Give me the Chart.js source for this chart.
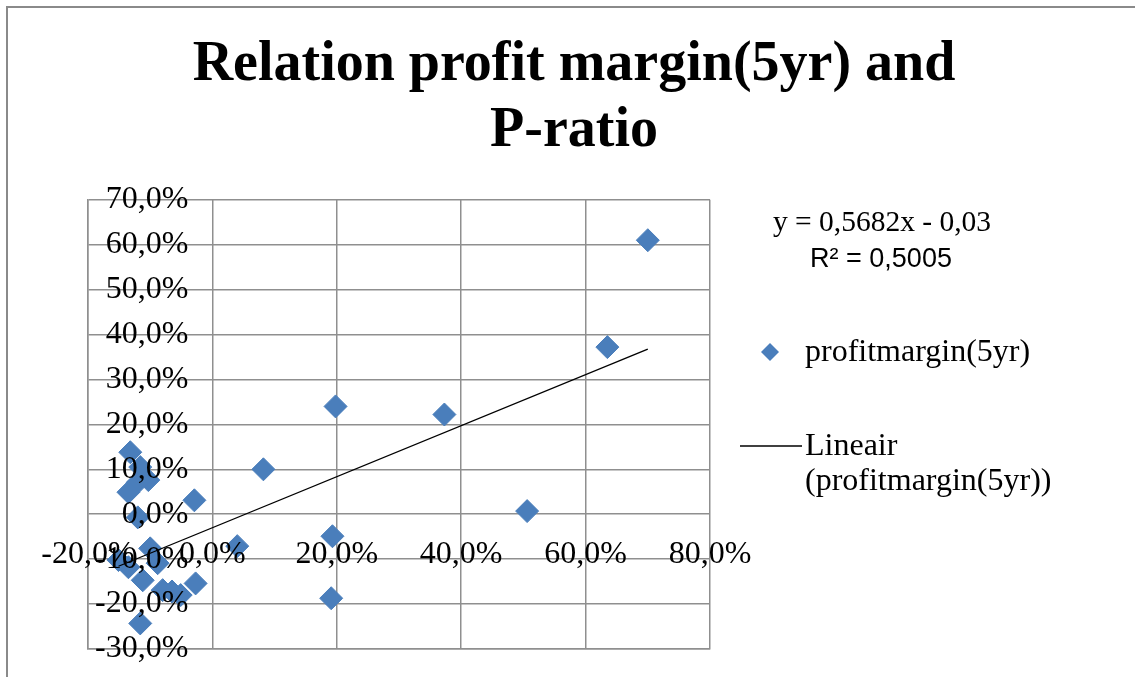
<!DOCTYPE html>
<html>
<head>
<meta charset="utf-8">
<script src="https://cdn.jsdelivr.net/npm/chart.js@4.4.0/dist/chart.umd.min.js"></script>
<style>
    html, body { margin: 0; padding: 0; background: #fff; overflow: hidden; }
    #frame {
        position: absolute; left: 6px; top: 6px; width: 1300px; height: 800px;
        border-left: 2px solid #8a8a8a; border-top: 2px solid #8a8a8a;
    }
    #chart { position: absolute; left: 0; top: 0; }
</style>
</head>
<body>
<div id="frame"></div>
<canvas id="chart" width="1135" height="677"></canvas>
<script>
// values in percent
const profitMargin = [70.0, 63.5, 37.3, 19.8, 50.6, 8.2, 19.3, 19.1, 4.0, -2.9,
    -13.2, -11.6, -10.3, -12.0, -13.5, -12.0, -10.0, -15.1, -13.5, -8.8,
    -11.2, -8.0, -5.1, -2.7, -6.5, -11.6];
const pRatio = [61.0, 37.2, 22.2, 24.0, 0.7, 10.0, -4.9, -18.7, -7.1, 3.1,
    13.8, 10.5, 7.6, 7.1, 4.9, -0.7, -7.6, -10.2, -11.8, -10.9,
    -14.7, -16.9, -18.0, -15.4, -17.2, -24.3];

// linear trendline as printed on the chart: y = 0,5682x - 0,03
const trendSlope = 0.5682;
const trendIntercept = -3.0;   // percent
const trendLabel = ['y = 0,5682x - 0,03', 'R² = 0,5005'];

const xTicks = [-20, 0, 20, 40, 60, 80];
const yTicks = [-30, -20, -10, 0, 10, 20, 30, 40, 50, 60, 70];

const titleLines = ['Relation profit margin(5yr) and', 'P-ratio'];
const seriesName = 'profitmargin(5yr)';
const trendName = ['Lineair', '(profitmargin(5yr))'];

const pointBlue = '#4A7EBB';
const gridGrey = '#8f8f8f';

function pct(v) {
    return v.toFixed(1).replace('.', ',') + '%';
}

const points = profitMargin.map((x, i) => ({ x: x, y: pRatio[i] }));
const xMin = Math.min(...profitMargin);
const xMax = Math.max(...profitMargin);
const trendPoints = [xMin, xMax].map(x => ({ x: x, y: trendSlope * x + trendIntercept }));

/**
 * Legend and trendline equation on the right side
 */
const sideLegend = {
    id: 'sideLegend',
    afterDraw(chart) {
        const ctx = chart.ctx;
        ctx.save();
        ctx.fillStyle = '#000';
        ctx.textBaseline = 'middle';

        // equation
        ctx.textAlign = 'center';
        ctx.font = '29.5px "Liberation Serif"';
        ctx.fillText(trendLabel[0], 882, 223);
        ctx.font = '27px "Liberation Sans"';
        ctx.fillText(trendLabel[1], 881, 260);

        // series marker
        ctx.fillStyle = pointBlue;
        ctx.beginPath();
        ctx.moveTo(770 - 9, 352);
        ctx.lineTo(770, 352 - 9);
        ctx.lineTo(770 + 9, 352);
        ctx.lineTo(770, 352 + 9);
        ctx.closePath();
        ctx.fill();

        ctx.fillStyle = '#000';
        ctx.textAlign = 'left';
        ctx.font = '32px "Liberation Serif"';
        ctx.fillText(seriesName, 805, 353);

        // trendline marker
        ctx.strokeStyle = '#000';
        ctx.lineWidth = 1.3;
        ctx.beginPath();
        ctx.moveTo(740, 446);
        ctx.lineTo(802, 446);
        ctx.stroke();
        ctx.fillText(trendName[0], 805, 447);
        ctx.fillText(trendName[1], 805, 482);

        ctx.restore();
    }
};

const tickFont = { family: 'Liberation Serif', size: 32, lineHeight: 1.2 };

new Chart(document.getElementById('chart'), {
    type: 'scatter',
    data: {
        datasets: [
            {
                type: 'line',
                label: trendName.join(' '),
                data: trendPoints,
                borderColor: '#000',
                borderWidth: 1.3,
                pointRadius: 0,
                fill: false,
                order: 0
            },
            {
                label: seriesName,
                data: points,
                backgroundColor: pointBlue,
                borderColor: pointBlue,
                borderWidth: 1,
                pointStyle: 'rectRot',
                pointRadius: 11.5,
                order: 1
            }
        ]
    },
    plugins: [sideLegend],
    options: {
        responsive: false,
        animation: false,
        layout: { padding: { left: 13, right: 0, top: 0, bottom: 0 } },
        plugins: {
            legend: { display: false },
            tooltip: { enabled: false },
            title: {
                display: true,
                text: titleLines,
                color: '#000',
                font: { family: 'Liberation Serif', size: 56, weight: 'bold', lineHeight: 1.19 },
                padding: { top: 32, bottom: 34.5 }
            }
        },
        scales: {
            x: {
                type: 'linear',
                position: 'bottom',
                min: xTicks[0],
                max: xTicks[xTicks.length - 1],
                afterBuildTicks: s => { s.ticks = xTicks.map(v => ({ value: v })); },
                afterFit: s => {
                    s.height = 28;
                    s.paddingLeft = 0;
                    s.paddingRight = 0;
                },
                grid: { color: gridGrey, lineWidth: 1.5, drawTicks: false },
                border: { color: gridGrey, width: 1.5 },
                ticks: {
                    font: tickFont,
                    color: '#000',
                    mirror: true,       // labels sit next to the 0% line, not under the plot
                    padding: 75,
                    maxRotation: 0,
                    autoSkip: false,
                    z: 1,
                    callback: v => pct(v)
                }
            },
            y: {
                type: 'linear',
                position: 'left',
                min: yTicks[0],
                max: yTicks[yTicks.length - 1],
                afterBuildTicks: s => { s.ticks = yTicks.map(v => ({ value: v })); },
                afterFit: s => {
                    s.width = 75;
                    s.paddingTop = 0;
                    s.paddingBottom = 0;
                },
                grid: { color: gridGrey, lineWidth: 1.5, drawTicks: false },
                border: { color: gridGrey, width: 1.5 },
                ticks: {
                    font: tickFont,
                    color: '#000',
                    mirror: true,       // labels sit left of the 0% line
                    crossAlign: 'far',
                    padding: 7,
                    autoSkip: false,
                    z: 1,
                    callback: v => pct(v)
                }
            },
            // keeps the right part free for the legend
            pad: {
                type: 'linear',
                position: 'right',
                grid: { display: false },
                border: { display: false },
                ticks: { display: false },
                afterFit: s => { s.width = 425; }
            }
        }
    }
});
</script>
</body>
</html>
